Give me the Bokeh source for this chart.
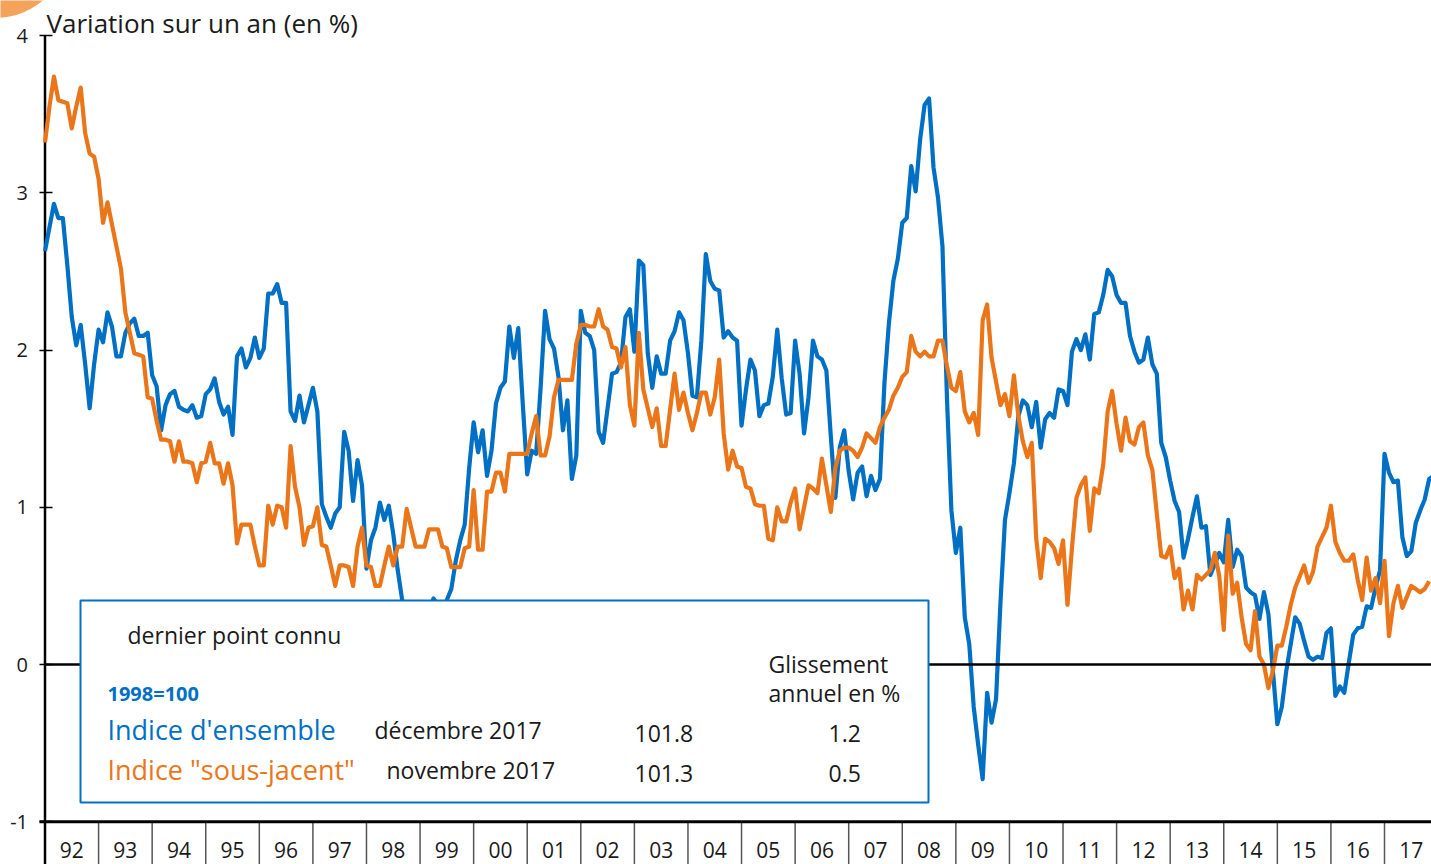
from bokeh.plotting import figure
from bokeh.models import Range1d, FixedTicker, BoxAnnotation, Label
from bokeh.core.properties import value
from bokeh.embed import file_html
from bokeh.resources import INLINE

# ---------------- data (monthly, Jan 1992 -> Dec 2017) ----------------
year_labels = ["92", "93", "94", "95", "96", "97", "98", "99", "00", "01", "02", "03", "04",
               "05", "06", "07", "08", "09", "10", "11", "12", "13", "14", "15", "16", "17"]
first_year = 1992

ensemble = [
    2.63, 2.78, 2.93, 2.84, 2.84, 2.54, 2.21, 2.03, 2.16, 1.91, 1.63, 1.91,   # 1992
    2.13, 2.05, 2.24, 2.15, 1.96, 1.96, 2.11, 2.17, 2.20, 2.09, 2.09, 2.11,   # 1993
    1.84, 1.77, 1.49, 1.65, 1.72, 1.74, 1.64, 1.62, 1.61, 1.65, 1.57, 1.58,   # 1994
    1.72, 1.75, 1.82, 1.67, 1.59, 1.64, 1.46, 1.96, 2.01, 1.89, 1.95, 2.08,   # 1995
    1.95, 2.01, 2.36, 2.36, 2.42, 2.30, 2.30, 1.61, 1.55, 1.71, 1.54, 1.65,   # 1996
    1.76, 1.61, 1.02, 0.94, 0.87, 0.96, 1.00, 1.48, 1.36, 1.04, 1.30, 1.14,   # 1997
    0.61, 0.79, 0.87, 1.03, 0.92, 1.01, 0.83, 0.60, 0.41, 0.30, 0.22, 0.25,   # 1998
    0.28, 0.30, 0.33, 0.42, 0.38, 0.35, 0.41, 0.48, 0.66, 0.79, 0.89, 1.25,   # 1999
    1.54, 1.35, 1.49, 1.20, 1.36, 1.66, 1.76, 1.80, 2.15, 1.95, 2.14, 1.66,   # 2000
    1.21, 1.36, 1.34, 1.76, 2.25, 2.07, 2.01, 1.83, 1.49, 1.68, 1.18, 1.33,   # 2001
    2.25, 2.11, 2.09, 2.00, 1.48, 1.41, 1.63, 1.85, 1.86, 1.92, 2.21, 2.26,   # 2002
    1.99, 2.57, 2.54, 1.98, 1.76, 1.96, 1.85, 1.85, 2.06, 2.12, 2.24, 2.19,   # 2003
    1.98, 1.71, 1.70, 2.06, 2.61, 2.44, 2.39, 2.38, 2.08, 2.12, 2.08, 2.06,   # 2004
    1.52, 1.75, 1.94, 1.87, 1.58, 1.65, 1.66, 1.83, 2.13, 1.82, 1.59, 1.60,   # 2005
    2.06, 1.85, 1.47, 1.70, 2.06, 1.96, 1.94, 1.87, 1.45, 1.06, 1.38, 1.49,   # 2006
    1.23, 1.05, 1.22, 1.26, 1.07, 1.20, 1.11, 1.18, 1.79, 2.17, 2.44, 2.58,   # 2007
    2.81, 2.84, 3.17, 3.01, 3.34, 3.56, 3.60, 3.16, 2.97, 2.66, 1.70, 0.98,   # 2008
    0.71, 0.87, 0.30, 0.13, -0.27, -0.51, -0.73, -0.18, -0.37, -0.22, 0.40, 0.92,  # 2009
    1.09, 1.28, 1.58, 1.68, 1.65, 1.51, 1.67, 1.38, 1.56, 1.60, 1.57, 1.75,   # 2010
    1.74, 1.65, 1.99, 2.07, 2.00, 2.10, 1.94, 2.23, 2.24, 2.35, 2.51, 2.47,   # 2011
    2.35, 2.30, 2.30, 2.09, 1.99, 1.92, 1.94, 2.08, 1.91, 1.85, 1.41, 1.32,   # 2012
    1.17, 1.04, 0.97, 0.68, 0.80, 0.94, 1.07, 0.87, 0.88, 0.57, 0.64, 0.71,   # 2013
    0.65, 0.92, 0.62, 0.73, 0.69, 0.49, 0.46, 0.44, 0.29, 0.46, 0.32, -0.04,  # 2014
    -0.38, -0.27, -0.04, 0.13, 0.30, 0.26, 0.15, 0.05, 0.03, 0.05, 0.04, 0.20,  # 2015
    0.23, -0.20, -0.14, -0.18, 0.01, 0.19, 0.23, 0.24, 0.37, 0.36, 0.49, 0.60,  # 2016
    1.34, 1.22, 1.16, 1.17, 0.81, 0.69, 0.72, 0.90, 0.98, 1.05, 1.18, 1.20,   # 2017
]

sous_jacent = [
    3.32, 3.55, 3.74, 3.59, 3.58, 3.57, 3.41, 3.55, 3.67, 3.38, 3.25, 3.23,   # 1992
    3.09, 2.81, 2.94, 2.80, 2.66, 2.52, 2.24, 2.11, 1.98, 1.97, 1.96, 1.70,   # 1993
    1.69, 1.55, 1.43, 1.43, 1.42, 1.29, 1.42, 1.29, 1.29, 1.28, 1.16, 1.28,   # 1994
    1.29, 1.41, 1.28, 1.28, 1.15, 1.28, 1.14, 0.77, 0.89, 0.89, 0.89, 0.75,   # 1995
    0.63, 0.63, 1.01, 0.89, 1.01, 1.00, 0.87, 1.39, 1.13, 1.00, 0.76, 0.87,   # 1996
    0.88, 1.00, 0.76, 0.75, 0.63, 0.50, 0.63, 0.63, 0.62, 0.50, 0.75, 0.87,   # 1997
    0.63, 0.62, 0.50, 0.50, 0.63, 0.75, 0.63, 0.75, 0.75, 0.99, 0.87, 0.75,   # 1998
    0.75, 0.75, 0.86, 0.86, 0.86, 0.75, 0.74, 0.62, 0.62, 0.62, 0.74, 0.75,   # 1999
    1.11, 0.73, 0.73, 1.10, 1.10, 1.22, 1.22, 1.10, 1.34, 1.34, 1.34, 1.34,   # 2000
    1.34, 1.47, 1.58, 1.33, 1.33, 1.45, 1.70, 1.81, 1.81, 1.81, 1.81, 2.04,   # 2001
    2.16, 2.16, 2.15, 2.15, 2.26, 2.15, 2.13, 2.02, 2.01, 1.89, 2.02, 1.65,   # 2002
    1.52, 2.11, 1.75, 1.63, 1.51, 1.63, 1.39, 1.39, 1.62, 1.85, 1.62, 1.73,   # 2003
    1.60, 1.49, 1.60, 1.73, 1.73, 1.59, 1.70, 1.94, 1.47, 1.24, 1.36, 1.26,   # 2004
    1.25, 1.13, 1.12, 1.02, 1.01, 1.01, 0.80, 0.79, 1.00, 0.91, 0.91, 1.03,   # 2005
    1.12, 0.86, 1.00, 1.14, 1.12, 1.09, 1.31, 1.14, 0.97, 1.25, 1.36, 1.38,   # 2006
    1.38, 1.36, 1.32, 1.38, 1.47, 1.44, 1.41, 1.51, 1.57, 1.62, 1.71, 1.76,   # 2007
    1.83, 1.86, 2.09, 1.99, 1.96, 1.99, 1.96, 1.96, 2.06, 2.06, 1.90, 1.76,   # 2008
    1.74, 1.86, 1.61, 1.54, 1.60, 1.46, 2.19, 2.29, 1.95, 1.80, 1.65, 1.72,   # 2009
    1.58, 1.84, 1.58, 1.42, 1.32, 1.41, 0.80, 0.55, 0.80, 0.78, 0.74, 0.64,   # 2010
    0.79, 0.38, 0.74, 1.06, 1.14, 1.19, 0.85, 1.12, 1.09, 1.27, 1.61, 1.74,   # 2011
    1.53, 1.36, 1.57, 1.42, 1.40, 1.51, 1.54, 1.33, 1.24, 0.96, 0.69, 0.68,   # 2012
    0.75, 0.55, 0.61, 0.35, 0.47, 0.35, 0.57, 0.54, 0.57, 0.60, 0.71, 0.56,   # 2013
    0.22, 0.82, 0.45, 0.52, 0.30, 0.13, 0.09, 0.34, 0.05, 0.00, -0.15, -0.04,  # 2014
    0.12, 0.12, 0.24, 0.38, 0.49, 0.56, 0.63, 0.52, 0.59, 0.75, 0.81, 0.87,   # 2015
    1.01, 0.78, 0.71, 0.66, 0.66, 0.70, 0.54, 0.41, 0.68, 0.47, 0.55, 0.39,   # 2016
    0.66, 0.18, 0.39, 0.50, 0.36, 0.43, 0.50, 0.48, 0.46, 0.48, 0.53,         # 2017 (to Nov)
]

y_ticks = [-1, 0, 1, 2, 3, 4]

legend_rows = [
    ("Indice d'ensemble", "décembre 2017", "101.8", "1.2"),
    ('Indice "sous-jacent"', "novembre 2017", "101.3", "0.5"),
]

# ---------------- styling ----------------
BLUE = "#0070C4"
ORANGE = "#EA7619"
FONT = "Open Sans"

W, H = 1431, 864                 # canvas = frame
YEAR_PX = 53.58                  # px per year
UNIT_PX = 157.2                  # px per percentage point
AX_PX, ZERO_PY = 44.5, 664.0     # canvas px of the y axis and of the 0 line

x_start = first_year - AX_PX / YEAR_PX
x_end = x_start + W / YEAR_PX
y_end = ZERO_PY / UNIT_PX
y_start = y_end - H / UNIT_PX


def X(px):  # canvas px -> data x
    return x_start + px / YEAR_PX


def Y(py):  # canvas px -> data y
    return (ZERO_PY - py) / UNIT_PX


x_ens = [first_year + i / 12 for i in range(len(ensemble))]
x_sj = [first_year + i / 12 for i in range(len(sous_jacent))]
years = [first_year + k for k in range(len(year_labels))]
y_min = min(y_ticks)

p = figure(width=W, height=H, output_backend="svg", toolbar_location=None,
           x_range=Range1d(x_start, x_end), y_range=Range1d(y_start, y_end),
           min_border_left=0, min_border_right=0, min_border_top=0, min_border_bottom=0)
p.outline_line_color = None
p.xgrid.visible = False
p.ygrid.visible = False
p.xaxis.visible = False
p.background_fill_color = "white"
p.border_fill_color = "white"

# decorative orange blob in the top-left corner
p.ellipse(x=[X(-5)], y=[Y(-55)], width=145 / YEAR_PX, height=145 / UNIT_PX,
          fill_color="#F5A25A", line_color=None)

# y axis (fixed at the first year)
p.yaxis.fixed_location = first_year
p.yaxis.ticker = FixedTicker(ticks=y_ticks, minor_ticks=[])
p.yaxis.major_label_overrides = {t: str(t) for t in y_ticks}
p.yaxis.axis_line_color = None
p.yaxis.major_tick_line_color = "black"
p.yaxis.major_tick_line_width = 1.5
p.yaxis.major_tick_in = 7
p.yaxis.major_tick_out = 6
p.yaxis.minor_tick_line_color = None
p.yaxis.major_label_text_font = FONT
p.yaxis.major_label_text_font_size = "20px"
p.yaxis.major_label_text_color = "#1a1a1a"
p.yaxis.major_label_standoff = 11

# y axis line (continues down as the first year separator)
p.segment(x0=[first_year], y0=[y_start], x1=[first_year], y1=[max(y_ticks)],
          line_color="black", line_width=2.5)

# series
p.line(x_ens, ensemble, line_color=BLUE, line_width=4.2, line_join="round")
p.line(x_sj, sous_jacent, line_color=ORANGE, line_width=4.2, line_join="round")

# zero line
p.segment(x0=[first_year], y0=[0], x1=[x_end], y1=[0], line_color="black", line_width=2.5)

# x axis: line at -1, year separators and year labels
p.segment(x0=years[1:], y0=[y_min] * (len(years) - 1), x1=years[1:], y1=[y_start] * (len(years) - 1),
          line_color="#555555", line_width=1.5)
p.segment(x0=[X(39)], y0=[y_min], x1=[x_end], y1=[y_min], line_color="black", line_width=3)
p.text(x=[y + 0.5 for y in years], y=[Y(849)] * len(years), text=year_labels,
       text_font=value(FONT), text_font_size=value("21px"), text_color="#1a1a1a",
       text_align="center", text_baseline="middle")

# legend / info box
p.add_layout(BoxAnnotation(left=X(80), right=X(928), top=Y(600), bottom=Y(802),
                           fill_color="white", fill_alpha=1.0,
                           line_color=BLUE, line_width=2, line_alpha=1.0))


def lab(px, py, text, size, color="#1a1a1a", style="normal"):
    p.add_layout(Label(x=X(px), y=Y(py), text=text, text_font=FONT, text_font_size=size,
                       text_color=color, text_align="left", text_baseline="middle",
                       text_font_style=style))


lab(46, 22, "Variation sur un an (en %)", "26px")
lab(127, 634, "dernier point connu", "23px")
lab(768, 663, "Glissement", "23px")
lab(768, 692, "annuel en %", "23px")
lab(107, 693, "1998=100", "20px", BLUE, "bold")
row_y = [729, 769]
row_col = [BLUE, ORANGE]
date_x = [374, 386]
for (name, date, idx, gl), yy, col, dx in zip(legend_rows, row_y, row_col, date_x):
    lab(107, yy, name, "27px", col)
    lab(dx, yy, date, "23px")
    lab(634, yy + 4, idx, "23px")
    lab(828, yy + 4, gl, "23px")

open("out.html", "w").write(file_html(p, INLINE))
